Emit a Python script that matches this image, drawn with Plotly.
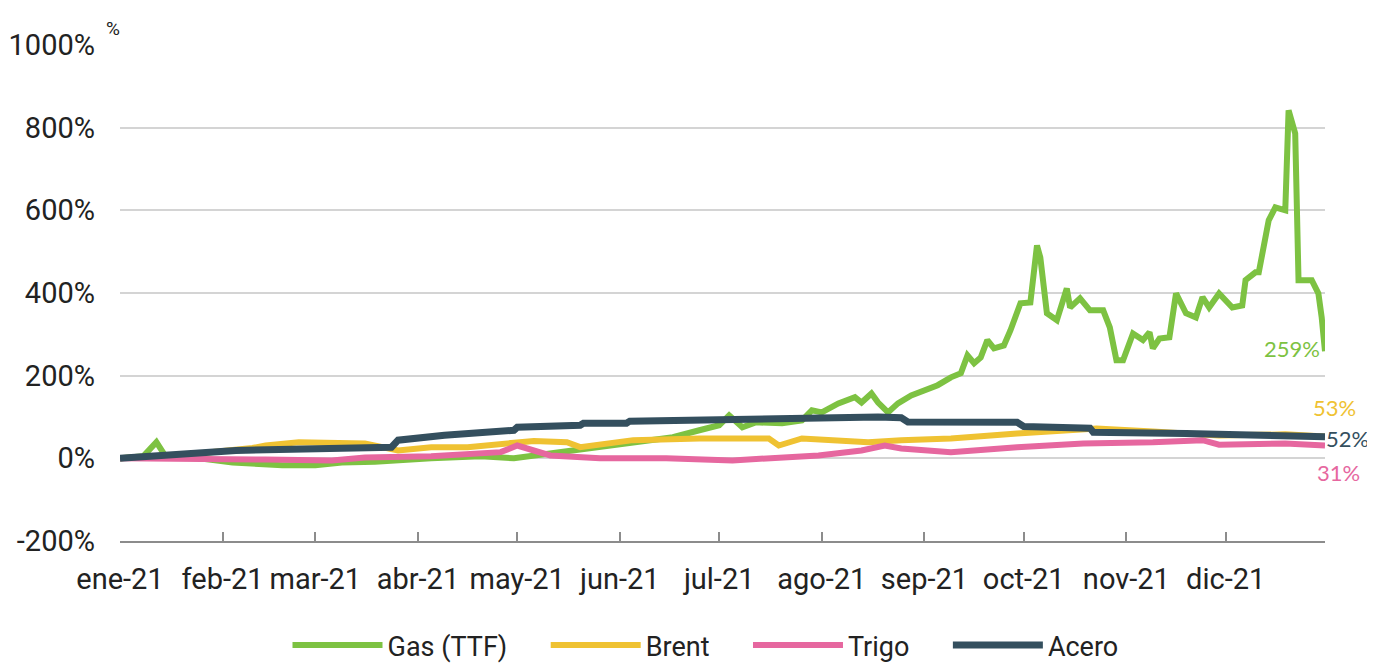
import plotly.graph_objects as go

# --- data (cumulative % change since 1 Jan 2021) ---
gas_dates = [
    "2021-01-01", "2021-01-08", "2021-01-12", "2021-01-15", "2021-01-25", "2021-02-04",
    "2021-02-19", "2021-03-01", "2021-03-09", "2021-03-19", "2021-04-05", "2021-04-20",
    "2021-04-30", "2021-05-15", "2021-06-01", "2021-06-17", "2021-06-25", "2021-07-01",
    "2021-07-04", "2021-07-08", "2021-07-12", "2021-07-20", "2021-07-26", "2021-07-29",
    "2021-08-01", "2021-08-06", "2021-08-11", "2021-08-13", "2021-08-16", "2021-08-18",
    "2021-08-21", "2021-08-24", "2021-08-28", "2021-09-01", "2021-09-05", "2021-09-09",
    "2021-09-12", "2021-09-14", "2021-09-16", "2021-09-18", "2021-09-20", "2021-09-22",
    "2021-09-25", "2021-09-27", "2021-09-29", "2021-09-30", "2021-10-03", "2021-10-05",
    "2021-10-06", "2021-10-08", "2021-10-11", "2021-10-14", "2021-10-15", "2021-10-18",
    "2021-10-21", "2021-10-25", "2021-10-27", "2021-10-29", "2021-10-31", "2021-11-03",
    "2021-11-06", "2021-11-08", "2021-11-09", "2021-11-11", "2021-11-14", "2021-11-16",
    "2021-11-19", "2021-11-22", "2021-11-24", "2021-11-26", "2021-11-29", "2021-12-03",
    "2021-12-06", "2021-12-07", "2021-12-10", "2021-12-11", "2021-12-14", "2021-12-16",
    "2021-12-19", "2021-12-20", "2021-12-22", "2021-12-23", "2021-12-27", "2021-12-29",
    "2021-12-30", "2021-12-31",
]
gas_values = [
    0, 5, 39, 2, 0, -10,
    -17, -17, -10, -8, 0, 5,
    0, 15, 35, 51, 68, 80,
    104, 75, 87, 85, 92, 116,
    111, 133, 148, 135, 157, 135,
    111, 133, 152, 165, 177, 196,
    206, 249, 230, 244, 286, 266,
    273, 310, 358, 375, 377, 515,
    486, 351, 334, 411, 365, 387,
    358, 358, 317, 237, 237, 302,
    286, 305, 266, 290, 293, 399,
    351, 341, 390, 365, 399, 365,
    370, 431, 450, 450, 576, 607,
    600, 842, 786, 431, 431, 399,
    341, 259,
]

brent_dates = [
    "2021-01-01", "2021-01-20", "2021-02-10", "2021-02-14", "2021-02-24", "2021-03-06",
    "2021-03-16", "2021-03-26", "2021-04-05", "2021-04-16", "2021-04-26", "2021-05-06",
    "2021-05-16", "2021-05-20", "2021-06-05", "2021-06-25", "2021-07-16", "2021-07-19",
    "2021-07-26", "2021-08-05", "2021-08-15", "2021-08-25", "2021-09-09", "2021-09-29",
    "2021-10-19", "2021-10-23", "2021-11-09", "2021-11-19", "2021-11-29", "2021-12-19",
    "2021-12-31",
]
brent_values = [
    0, 8, 25, 31, 39, 39,
    36, 19, 27, 27, 36, 42,
    39, 27, 44, 48, 48, 31,
    48, 45, 39, 44, 48, 60,
    68, 72, 65, 60, 55, 58,
    53,
]

trigo_dates = [
    "2021-01-01", "2021-01-22", "2021-02-14", "2021-03-06", "2021-03-16", "2021-04-05",
    "2021-04-26", "2021-05-01", "2021-05-06", "2021-05-11", "2021-05-26", "2021-06-15",
    "2021-07-05", "2021-07-20", "2021-07-31", "2021-08-13", "2021-08-20", "2021-08-25",
    "2021-09-09", "2021-09-29", "2021-10-19", "2021-11-09", "2021-11-24", "2021-11-29",
    "2021-12-19", "2021-12-31",
]
trigo_values = [
    0, 0, -3, -5, 2, 5,
    15, 31, 19, 7, 0, 0,
    -5, 2, 7, 19, 31, 24,
    15, 27, 36, 39, 44, 33,
    36, 31,
]

acero_dates = [
    "2021-01-01", "2021-02-05", "2021-03-24", "2021-03-26", "2021-04-09", "2021-04-30",
    "2021-05-01", "2021-05-20", "2021-05-21", "2021-06-03", "2021-06-04", "2021-06-17",
    "2021-07-05", "2021-07-26", "2021-08-18", "2021-08-25", "2021-08-27", "2021-09-29",
    "2021-10-01", "2021-10-21", "2021-10-22", "2021-11-19", "2021-12-09", "2021-12-31",
]
acero_values = [
    0, 19, 27, 44, 56, 68,
    75, 80, 85, 85, 90, 92,
    97, 99, 100, 98, 88, 87,
    77, 73, 63, 60, 58, 52,
]

series = [
    ("Gas (TTF)", gas_dates, gas_values, "#7dc242", 6),
    ("Brent", brent_dates, brent_values, "#efc232", 6),
    ("Trigo", trigo_dates, trigo_values, "#e6679f", 6),
    ("Acero", acero_dates, acero_values, "#344f5e", 7),
]

# end-of-series label placement (px)
label_shift = {
    "Gas (TTF)": dict(xanchor="right", xshift=-4, yshift=3, color="#7dc242"),
    "Brent": dict(xanchor="right", xshift=32, yshift=29, color="#efc232"),
    "Trigo": dict(xanchor="right", xshift=36, yshift=-27, color="#e6679f"),
    "Acero": dict(xanchor="left", xshift=0, yshift=-2, color="#344f5e"),
}

AXIS_FONT = "Roboto, Liberation Sans, sans-serif"
PAD = "\u00a0" * 5  # extra room between legend entries

fig = go.Figure()
for name, dates, values, color, width in series:
    fig.add_trace(
        go.Scatter(
            x=dates,
            y=values,
            mode="lines",
            name=name + PAD,
            line=dict(color=color, width=width),
        )
    )

for name, dates, values, color, width in series:
    s = label_shift[name]
    fig.add_annotation(
        x=dates[-1],
        y=values[-1],
        text=f"{values[-1]}%",
        showarrow=False,
        xanchor=s["xanchor"],
        yanchor="middle",
        xshift=s["xshift"],
        yshift=s["yshift"],
        borderpad=0,
        font=dict(family="Lato, Open Sans, sans-serif", size=22, color=s["color"]),
    )

# "%" unit next to the top tick
fig.add_annotation(
    xref="paper", yref="paper", x=0.0, y=1.0,
    text="%", showarrow=False, xanchor="right", yanchor="bottom", yshift=3, xshift=2,
    font=dict(family=AXIS_FONT, size=19, color="#222222"),
)

month_ticks = [f"2021-{m:02d}-01" for m in range(1, 13)]
month_labels = ["ene-21", "feb-21", "mar-21", "abr-21", "may-21", "jun-21",
                "jul-21", "ago-21", "sep-21", "oct-21", "nov-21", "dic-21"]

fig.update_layout(
    width=1375,
    height=664,
    margin=dict(l=112, r=58, t=37, b=131),
    plot_bgcolor="white",
    paper_bgcolor="white",
    font=dict(family=AXIS_FONT, size=29, color="#222222"),
    xaxis=dict(
        range=["2021-01-01", "2021-12-31"],
        tickvals=month_ticks,
        ticktext=month_labels,
        ticks="inside",
        ticklen=9,
        tickwidth=2,
        tickcolor="#8c8c8c",
        showline=True,
        linecolor="#8c8c8c",
        linewidth=2,
        showgrid=False,
        zeroline=False,
        ticklabelstandoff=11,
        automargin=False,
    ),
    yaxis=dict(
        range=[-200, 1000],
        tickvals=[-200, 0, 200, 400, 600, 800, 1000],
        ticktext=["-200%", "0%", "200%", "400%", "600%", "800%", "1000%"],
        showgrid=True,
        gridcolor="#d4d4d4",
        gridwidth=2,
        zeroline=False,
        showline=False,
        ticks="",
        ticklabelstandoff=24,
        automargin=False,
    ),
    legend=dict(
        orientation="h",
        x=0.5,
        xanchor="center",
        yref="container",
        y=0.04,
        yanchor="middle",
        font=dict(family=AXIS_FONT, size=27, color="#222222"),
        itemwidth=90,
        traceorder="normal",
    ),
    showlegend=True,
)

fig.write_html("out.html")
